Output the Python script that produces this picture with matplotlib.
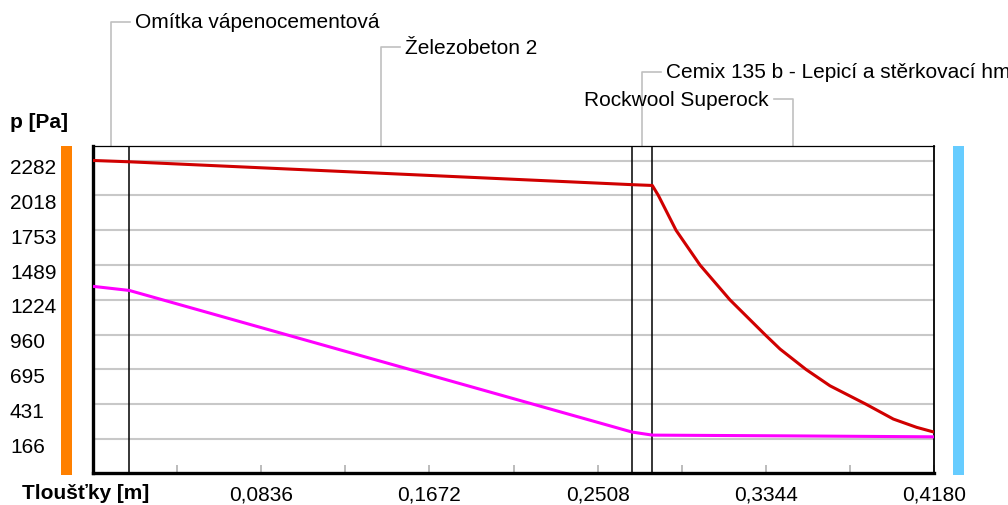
import matplotlib
matplotlib.use("Agg")
import matplotlib.pyplot as plt
from matplotlib.patches import Rectangle
from matplotlib.transforms import ScaledTranslation

plt.rcParams['font.family'] = ['Liberation Sans', 'DejaVu Sans']

# layers (thickness in m)
layer_names = ["Omítka vápenocementová", "Železobeton 2",
               "Cemix 135 b - Lepicí a stěrkovací hmota", "Rockwool Superock"]
layer_thick = [0.018, 0.25, 0.01, 0.14]
label_ypx = [23, 48, 73, 100]          # label rows above the chart
label_side = ['right', 'right', 'right', 'left']

# saturated vapour pressure p_sat [Pa]
psat_x = [0.0, 0.018, 0.268, 0.278, 0.2810, 0.2898, 0.3017, 0.3166,
          0.3340, 0.3415, 0.3544, 0.3663, 0.3842, 0.3978, 0.4094, 0.418]
psat_y = [2284, 2274, 2100, 2094, 2018, 1753, 1489, 1224,
          960, 850, 695, 571, 431, 318, 255, 219]

# partial vapour pressure p [Pa]
p_x = [0.0, 0.018, 0.268, 0.278, 0.348, 0.418]
p_y = [1327, 1296, 219, 196, 190, 183]

yticks = [166, 431, 695, 960, 1224, 1489, 1753, 2018, 2282]
xticks = [0.0836, 0.1672, 0.2508, 0.3344, 0.4180]
xminor = [0.0418, 0.1254, 0.2090, 0.2926, 0.3762]

W, H = 1008, 506
fig = plt.figure(figsize=(W / 100, H / 100), dpi=100)
left, right, top, bottom = 93, 934, 147, 474
ax = fig.add_axes([left / W, (H - bottom) / H, (right - left) / W, (bottom - top) / H])

ax.set_xlim(0, sum(layer_thick))
ax.set_ylim(-92, 2394)

# grid
for v in yticks:
    ax.axhline(v, color='#c8c8c8', lw=1.5, zorder=1)

# layer boundaries
bounds = [0]
for t in layer_thick:
    bounds.append(bounds[-1] + t)
for b in bounds[1:-1]:
    ax.axvline(b, color='black', lw=1.1, zorder=2)

ax.plot(psat_x, psat_y, color='#d00000', lw=2.2, zorder=3,
        solid_joinstyle='round', solid_capstyle='butt')
ax.plot(p_x, p_y, color='#ff00ff', lw=2.2, zorder=3,
        solid_joinstyle='round', solid_capstyle='butt')

# spines
for s in ['left', 'bottom']:
    ax.spines[s].set_linewidth(2.4)
ax.spines['top'].set_linewidth(0.9)
ax.spines['right'].set_linewidth(1.3)

# ticks
ax.set_yticks(yticks)
ax.set_yticklabels([str(v) for v in yticks])
ax.tick_params(axis='y', length=0, pad=59.8, labelsize=15)
shift = ScaledTranslation(0, -0.05, fig.dpi_scale_trans)
for lab in ax.get_yticklabels():
    lab.set_horizontalalignment('left')
    lab.set_transform(lab.get_transform() + shift)
ax.set_xticks(xticks)
ax.set_xticklabels([f"{v:.4f}".replace('.', ',') for v in xticks])
ax.set_xticks(xminor, minor=True)
ax.tick_params(axis='x', which='both', direction='in', length=6, width=1.2,
               color='#b0b0b0', labelsize=15, pad=8)

# axis captions
fig.text(10 / W, 1 - 123 / H, "p [Pa]", fontsize=15, fontweight='bold', va='center', ha='left')
fig.text(22 / W, 1 - 494 / H, "Tloušťky [m]", fontsize=15, fontweight='bold', va='center', ha='left')

# boundary condition bars
fig.add_artist(Rectangle((61 / W, 1 - 476 / H), 11 / W, 329 / H, transform=fig.transFigure,
                         color='#ff8000', lw=0))
fig.add_artist(Rectangle((953 / W, 1 - 476 / H), 11 / W, 329 / H, transform=fig.transFigure,
                         color='#66ccff', lw=0))

# layer labels with leader lines
tr = ax.get_xaxis_transform()
arm = 0.0095
for i, name in enumerate(layer_names):
    mid = bounds[i] + layer_thick[i] / 2
    ya = (bottom - label_ypx[i]) / (bottom - top)
    sgn = 1 if label_side[i] == 'right' else -1
    ax.plot([mid, mid, mid + sgn * arm], [1, ya, ya], color='#c0c0c0', lw=1.2,
            transform=tr, clip_on=False, zorder=0)
    ax.text(mid + sgn * (arm + 0.0025), ya, name, transform=tr, fontsize=15,
            ha='left' if sgn > 0 else 'right', va='center', clip_on=False)

fig.savefig("out.png", dpi=100)
